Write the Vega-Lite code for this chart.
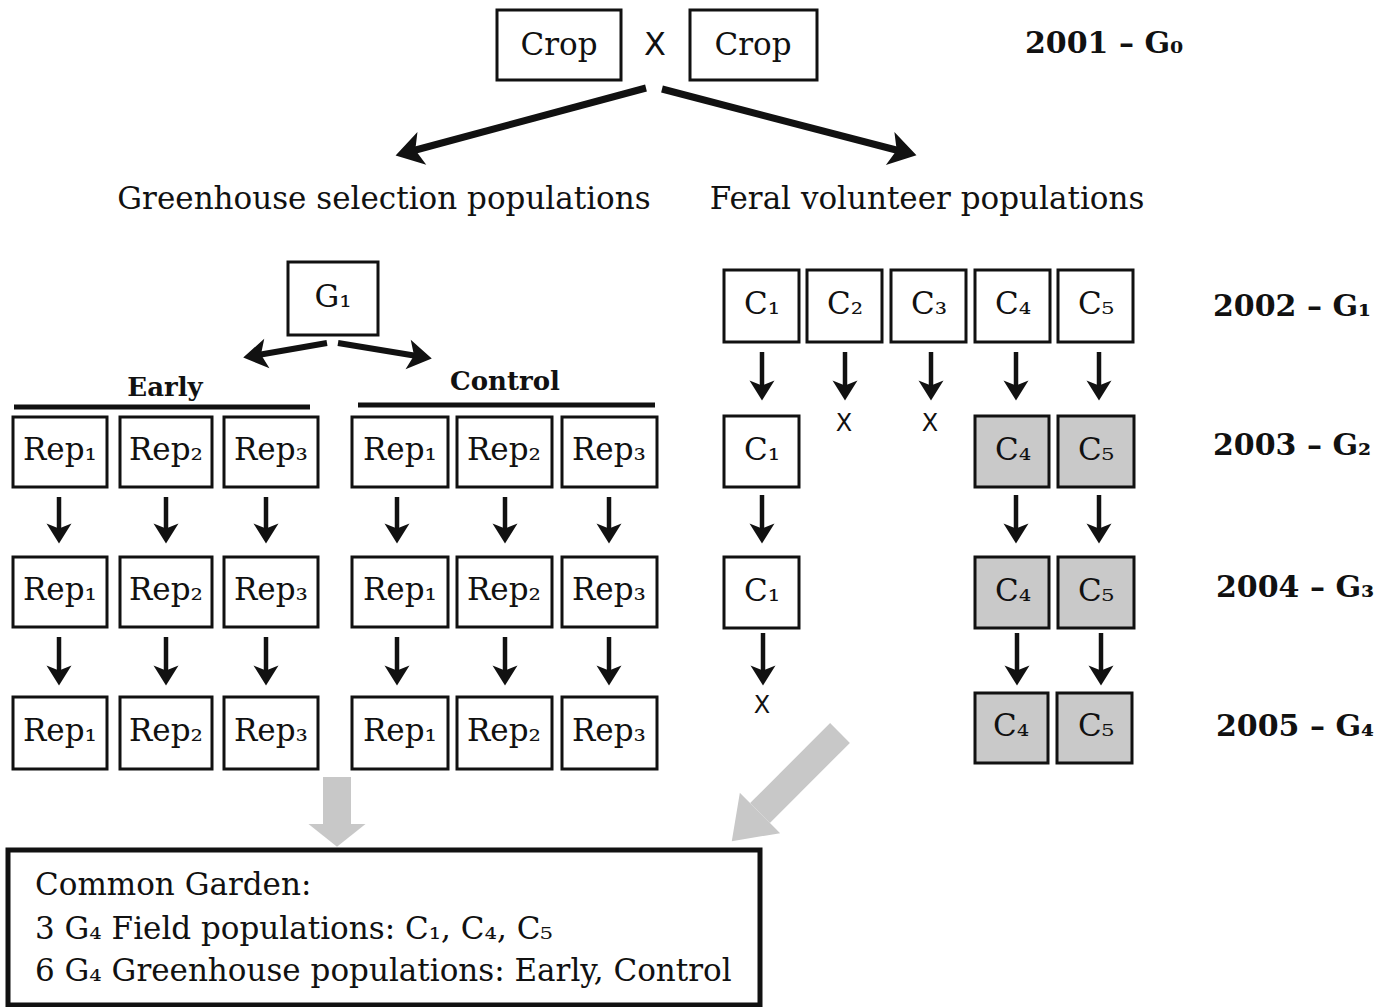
{
  "$schema": "https://vega.github.io/schema/vega-lite/v6.json",
  "width": 1390,
  "height": 1007,
  "padding": 0,
  "autosize": "none",
  "background": "white",
  "config": {"view": {"stroke": null}},
  "datasets": {
    "boxes": [
      {"x": 497, "x2": 621, "y": 10, "y2": 80, "shade": "open"},
      {"x": 690, "x2": 817, "y": 10, "y2": 80, "shade": "open"},
      {"x": 288, "x2": 378, "y": 262, "y2": 335, "shade": "open"},
      {"x": 13, "x2": 107, "y": 417, "y2": 487, "shade": "open"},
      {"x": 120, "x2": 212, "y": 417, "y2": 487, "shade": "open"},
      {"x": 224, "x2": 318, "y": 417, "y2": 487, "shade": "open"},
      {"x": 352, "x2": 448, "y": 417, "y2": 487, "shade": "open"},
      {"x": 457, "x2": 552, "y": 417, "y2": 487, "shade": "open"},
      {"x": 562, "x2": 657, "y": 417, "y2": 487, "shade": "open"},
      {"x": 13, "x2": 107, "y": 557, "y2": 627, "shade": "open"},
      {"x": 120, "x2": 212, "y": 557, "y2": 627, "shade": "open"},
      {"x": 224, "x2": 318, "y": 557, "y2": 627, "shade": "open"},
      {"x": 352, "x2": 448, "y": 557, "y2": 627, "shade": "open"},
      {"x": 457, "x2": 552, "y": 557, "y2": 627, "shade": "open"},
      {"x": 562, "x2": 657, "y": 557, "y2": 627, "shade": "open"},
      {"x": 13, "x2": 107, "y": 697, "y2": 769, "shade": "open"},
      {"x": 120, "x2": 212, "y": 697, "y2": 769, "shade": "open"},
      {"x": 224, "x2": 318, "y": 697, "y2": 769, "shade": "open"},
      {"x": 352, "x2": 448, "y": 697, "y2": 769, "shade": "open"},
      {"x": 457, "x2": 552, "y": 697, "y2": 769, "shade": "open"},
      {"x": 562, "x2": 657, "y": 697, "y2": 769, "shade": "open"},
      {"x": 724, "x2": 799, "y": 270, "y2": 342, "shade": "open"},
      {"x": 807, "x2": 882, "y": 270, "y2": 342, "shade": "open"},
      {"x": 891, "x2": 966, "y": 270, "y2": 342, "shade": "open"},
      {"x": 975, "x2": 1050, "y": 270, "y2": 342, "shade": "open"},
      {"x": 1058, "x2": 1133, "y": 270, "y2": 342, "shade": "open"},
      {"x": 724, "x2": 799, "y": 416, "y2": 487, "shade": "open"},
      {"x": 975, "x2": 1049, "y": 416, "y2": 487, "shade": "shaded"},
      {"x": 1058, "x2": 1134, "y": 416, "y2": 487, "shade": "shaded"},
      {"x": 724, "x2": 799, "y": 557, "y2": 628, "shade": "open"},
      {"x": 975, "x2": 1049, "y": 557, "y2": 628, "shade": "shaded"},
      {"x": 1058, "x2": 1134, "y": 557, "y2": 628, "shade": "shaded"},
      {"x": 975, "x2": 1048, "y": 693, "y2": 763, "shade": "shaded"},
      {"x": 1057, "x2": 1132, "y": 693, "y2": 763, "shade": "shaded"}
    ],
    "boxLabels": [
      {"x": 559, "y": 46, "t": "Crop"},
      {"x": 753, "y": 46, "t": "Crop"},
      {"x": 333, "y": 298, "t": "G₁"},
      {"x": 60, "y": 451, "t": "Rep₁"}, {"x": 166, "y": 451, "t": "Rep₂"}, {"x": 271, "y": 451, "t": "Rep₃"},
      {"x": 400, "y": 451, "t": "Rep₁"}, {"x": 504, "y": 451, "t": "Rep₂"}, {"x": 609, "y": 451, "t": "Rep₃"},
      {"x": 60, "y": 591, "t": "Rep₁"}, {"x": 166, "y": 591, "t": "Rep₂"}, {"x": 271, "y": 591, "t": "Rep₃"},
      {"x": 400, "y": 591, "t": "Rep₁"}, {"x": 504, "y": 591, "t": "Rep₂"}, {"x": 609, "y": 591, "t": "Rep₃"},
      {"x": 60, "y": 732, "t": "Rep₁"}, {"x": 166, "y": 732, "t": "Rep₂"}, {"x": 271, "y": 732, "t": "Rep₃"},
      {"x": 400, "y": 732, "t": "Rep₁"}, {"x": 504, "y": 732, "t": "Rep₂"}, {"x": 609, "y": 732, "t": "Rep₃"},
      {"x": 762, "y": 305, "t": "C₁"}, {"x": 845, "y": 305, "t": "C₂"}, {"x": 929, "y": 305, "t": "C₃"},
      {"x": 1013, "y": 305, "t": "C₄"}, {"x": 1096, "y": 305, "t": "C₅"},
      {"x": 762, "y": 451, "t": "C₁"}, {"x": 1013, "y": 451, "t": "C₄"}, {"x": 1096, "y": 451, "t": "C₅"},
      {"x": 762, "y": 592, "t": "C₁"}, {"x": 1013, "y": 592, "t": "C₄"}, {"x": 1096, "y": 592, "t": "C₅"},
      {"x": 1011, "y": 727, "t": "C₄"}, {"x": 1096, "y": 727, "t": "C₅"}
    ],
    "downArrows": [
      {"x": 59, "y": 497, "yh": 531}, {"x": 166, "y": 497, "yh": 531}, {"x": 266, "y": 497, "yh": 531},
      {"x": 397, "y": 497, "yh": 531}, {"x": 505, "y": 497, "yh": 531}, {"x": 609, "y": 497, "yh": 531},
      {"x": 59, "y": 637, "yh": 673}, {"x": 166, "y": 637, "yh": 673}, {"x": 266, "y": 637, "yh": 673},
      {"x": 397, "y": 637, "yh": 673}, {"x": 505, "y": 637, "yh": 673}, {"x": 609, "y": 637, "yh": 673},
      {"x": 762, "y": 352, "yh": 388}, {"x": 845, "y": 352, "yh": 388}, {"x": 931, "y": 352, "yh": 388},
      {"x": 1016, "y": 352, "yh": 388}, {"x": 1099, "y": 352, "yh": 388},
      {"x": 762, "y": 495, "yh": 531}, {"x": 1016, "y": 495, "yh": 531}, {"x": 1099, "y": 495, "yh": 531},
      {"x": 763, "y": 633, "yh": 673}, {"x": 1017, "y": 633, "yh": 673}, {"x": 1101, "y": 633, "yh": 673}
    ],
    "topLeft": [{"x": 646, "y": 88, "x2": 412, "y2": 151}],
    "topRight": [{"x": 662, "y": 89, "x2": 900, "y2": 151}],
    "g1Left": [{"x": 327, "y": 343, "x2": 258, "y2": 355}],
    "g1Right": [{"x": 338, "y": 343, "x2": 417, "y2": 356}],
    "grayDown": [{"x": 337, "y": 777, "x2": 337, "y2": 824}],
    "grayDiag": [{"x": 840, "y": 733, "x2": 760, "y2": 813}],
    "bars": [
      {"x": 14, "x2": 310, "y": 407},
      {"x": 358, "x2": 655, "y": 405}
    ],
    "crossTop": [{"x": 655, "y": 45, "t": "X"}],
    "crosses": [
      {"x": 844, "y": 424, "t": "X"},
      {"x": 930, "y": 424, "t": "X"},
      {"x": 762, "y": 706, "t": "X"}
    ],
    "headings": [
      {"x": 384, "y": 200, "t": "Greenhouse selection populations"},
      {"x": 927, "y": 200, "t": "Feral volunteer populations"}
    ],
    "groups": [
      {"x": 165, "y": 388, "t": "Early"},
      {"x": 505, "y": 382, "t": "Control"}
    ],
    "years": [
      {"x": 1025, "y": 44, "t": "2001 – G₀"},
      {"x": 1213, "y": 307, "t": "2002 – G₁"},
      {"x": 1213, "y": 446, "t": "2003 – G₂"},
      {"x": 1216, "y": 588, "t": "2004 – G₃"},
      {"x": 1216, "y": 727, "t": "2005 – G₄"}
    ],
    "garden": [{"x": 8, "x2": 760, "y": 850, "y2": 1005}],
    "gardenText": [
      {"x": 35, "y": 886, "t": "Common Garden:"},
      {"x": 35, "y": 930, "t": "3 G₄ Field populations: C₁, C₄, C₅"},
      {"x": 35, "y": 972, "t": "6 G₄ Greenhouse populations: Early, Control"}
    ]
  },
  "encoding": {
    "x": {"field": "x", "type": "quantitative", "scale": {"domain": [0, 1390], "nice": false, "zero": false}, "axis": null},
    "y": {"field": "y", "type": "quantitative", "scale": {"domain": [0, 1007], "nice": false, "zero": false, "reverse": true}, "axis": null}
  },
  "layer": [
    {
      "data": {"name": "grayDown"},
      "mark": {"type": "rule", "color": "#c8c8c8", "strokeWidth": 28, "strokeCap": "butt"},
      "encoding": {"x2": {"field": "x2"}, "y2": {"field": "y2"}}
    },
    {
      "data": {"name": "grayDown"},
      "mark": {"type": "point", "filled": true, "opacity": 1, "color": "#c8c8c8", "shape": "M0,0.8L-1,0L1,0Z", "size": 3249},
      "encoding": {"x": {"field": "x2", "type": "quantitative"}, "y": {"field": "y2", "type": "quantitative"}}
    },
    {
      "data": {"name": "grayDiag"},
      "mark": {"type": "rule", "color": "#c8c8c8", "strokeWidth": 28, "strokeCap": "butt"},
      "encoding": {"x2": {"field": "x2"}, "y2": {"field": "y2"}}
    },
    {
      "data": {"name": "grayDiag"},
      "mark": {"type": "point", "filled": true, "opacity": 1, "color": "#c8c8c8", "shape": "M0,1.4L-1,0L1,0Z", "size": 3249, "angle": 45},
      "encoding": {"x": {"field": "x2", "type": "quantitative"}, "y": {"field": "y2", "type": "quantitative"}}
    },
    {
      "data": {"name": "boxes"},
      "mark": {"type": "rect", "stroke": "#111111", "strokeWidth": 3},
      "encoding": {
        "x2": {"field": "x2"},
        "y2": {"field": "y2"},
        "fill": {"field": "shade", "type": "nominal", "scale": {"domain": ["open", "shaded"], "range": ["#ffffff", "#c9c9c9"]}, "legend": null}
      }
    },
    {
      "data": {"name": "garden"},
      "mark": {"type": "rect", "fill": "white", "stroke": "#111111", "strokeWidth": 5},
      "encoding": {"x2": {"field": "x2"}, "y2": {"field": "y2"}}
    },
    {
      "data": {"name": "bars"},
      "mark": {"type": "rule", "color": "#111111", "strokeWidth": 5},
      "encoding": {"x2": {"field": "x2"}}
    },
    {
      "data": {"name": "downArrows"},
      "mark": {"type": "rule", "color": "#111111", "strokeWidth": 4.5},
      "encoding": {"y2": {"field": "yh"}}
    },
    {
      "data": {"name": "downArrows"},
      "mark": {"type": "point", "filled": true, "opacity": 1, "color": "#111111", "shape": "M0,1L-1,-0.6L0,-0.2L1,-0.6Z", "size": 625},
      "encoding": {"y": {"field": "yh", "type": "quantitative"}}
    },
    {
      "data": {"name": "topLeft"},
      "mark": {"type": "rule", "color": "#111111", "strokeWidth": 7},
      "encoding": {"x2": {"field": "x2"}, "y2": {"field": "y2"}}
    },
    {
      "data": {"name": "topLeft"},
      "mark": {"type": "point", "filled": true, "opacity": 1, "color": "#111111", "shape": "M0,1L-1,-0.6L0,-0.2L1,-0.6Z", "size": 1156, "angle": 75},
      "encoding": {"x": {"field": "x2", "type": "quantitative"}, "y": {"field": "y2", "type": "quantitative"}}
    },
    {
      "data": {"name": "topRight"},
      "mark": {"type": "rule", "color": "#111111", "strokeWidth": 7},
      "encoding": {"x2": {"field": "x2"}, "y2": {"field": "y2"}}
    },
    {
      "data": {"name": "topRight"},
      "mark": {"type": "point", "filled": true, "opacity": 1, "color": "#111111", "shape": "M0,1L-1,-0.6L0,-0.2L1,-0.6Z", "size": 1156, "angle": 284.5},
      "encoding": {"x": {"field": "x2", "type": "quantitative"}, "y": {"field": "y2", "type": "quantitative"}}
    },
    {
      "data": {"name": "g1Left"},
      "mark": {"type": "rule", "color": "#111111", "strokeWidth": 6},
      "encoding": {"x2": {"field": "x2"}, "y2": {"field": "y2"}}
    },
    {
      "data": {"name": "g1Left"},
      "mark": {"type": "point", "filled": true, "opacity": 1, "color": "#111111", "shape": "M0,1L-1,-0.6L0,-0.2L1,-0.6Z", "size": 900, "angle": 80},
      "encoding": {"x": {"field": "x2", "type": "quantitative"}, "y": {"field": "y2", "type": "quantitative"}}
    },
    {
      "data": {"name": "g1Right"},
      "mark": {"type": "rule", "color": "#111111", "strokeWidth": 6},
      "encoding": {"x2": {"field": "x2"}, "y2": {"field": "y2"}}
    },
    {
      "data": {"name": "g1Right"},
      "mark": {"type": "point", "filled": true, "opacity": 1, "color": "#111111", "shape": "M0,1L-1,-0.6L0,-0.2L1,-0.6Z", "size": 900, "angle": 280},
      "encoding": {"x": {"field": "x2", "type": "quantitative"}, "y": {"field": "y2", "type": "quantitative"}}
    },
    {
      "data": {"name": "boxLabels"},
      "mark": {"type": "text", "font": "DejaVu Serif", "fontSize": 31, "color": "#111111", "align": "center", "baseline": "middle"},
      "encoding": {"text": {"field": "t"}}
    },
    {
      "data": {"name": "crossTop"},
      "mark": {"type": "text", "font": "DejaVu Sans", "fontSize": 32, "color": "#111111", "align": "center", "baseline": "middle"},
      "encoding": {"text": {"field": "t"}}
    },
    {
      "data": {"name": "crosses"},
      "mark": {"type": "text", "font": "DejaVu Sans", "fontSize": 24, "color": "#111111", "align": "center", "baseline": "middle"},
      "encoding": {"text": {"field": "t"}}
    },
    {
      "data": {"name": "headings"},
      "mark": {"type": "text", "font": "DejaVu Serif", "fontSize": 31, "color": "#111111", "align": "center", "baseline": "middle"},
      "encoding": {"text": {"field": "t"}}
    },
    {
      "data": {"name": "groups"},
      "mark": {"type": "text", "font": "DejaVu Serif", "fontWeight": "bold", "fontSize": 26, "color": "#111111", "align": "center", "baseline": "middle"},
      "encoding": {"text": {"field": "t"}}
    },
    {
      "data": {"name": "years"},
      "mark": {"type": "text", "font": "DejaVu Serif", "fontWeight": "bold", "fontSize": 30, "color": "#111111", "align": "left", "baseline": "middle"},
      "encoding": {"text": {"field": "t"}}
    },
    {
      "data": {"name": "gardenText"},
      "mark": {"type": "text", "font": "DejaVu Serif", "fontSize": 31, "color": "#111111", "align": "left", "baseline": "middle"},
      "encoding": {"text": {"field": "t"}}
    }
  ]
}
